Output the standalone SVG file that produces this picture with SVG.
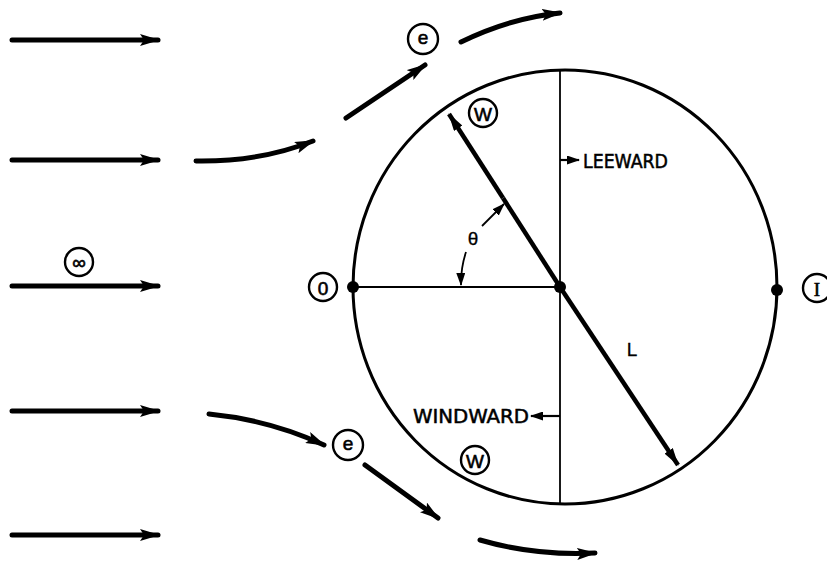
<svg xmlns="http://www.w3.org/2000/svg" width="827" height="566" viewBox="0 0 827 566">
<style>
.flow{fill:none;stroke:#000;stroke-width:5;stroke-linecap:round;marker-end:url(#big)}
.thin{fill:none;stroke:#000;stroke-width:1.8}
.lbl{fill:none;stroke:#000;stroke-width:2.4}
.ct{font-family:"Liberation Sans",Arial,sans-serif;font-size:19px;text-anchor:middle;dominant-baseline:central;fill:#000;stroke:#000;stroke-width:0.6}
.word{font-family:"Liberation Sans Narrow","DejaVu Sans Condensed","Liberation Sans",sans-serif;font-size:20px;fill:#000;stroke:#000;stroke-width:0.5}
</style>
<defs>
<marker id="big" markerUnits="userSpaceOnUse" viewBox="0 0 20 12" refX="18" refY="6" markerWidth="20" markerHeight="12" orient="auto"><path d="M0,0 L20,6 L0,12 L4,6 Z" fill="#000"/></marker>
<marker id="mid" markerUnits="userSpaceOnUse" viewBox="0 0 18 10" refX="17" refY="5" markerWidth="18" markerHeight="10" orient="auto"><path d="M0,0 L18,5 L0,10 Z" fill="#000"/></marker>
<marker id="sm" markerUnits="userSpaceOnUse" viewBox="0 0 13 9" refX="12" refY="4.5" markerWidth="13" markerHeight="9" orient="auto"><path d="M0,0 L13,4.5 L0,9 Z" fill="#000"/></marker>
</defs>
<g id="connectors">
<path class="flow" d="M12,40 L158,40"/>
<path class="flow" d="M12,160 L158,160"/>
<path class="flow" d="M12,286 L158,286"/>
<path class="flow" d="M12,411 L158,411"/>
<path class="flow" d="M12,535 L158,535"/>
<path class="flow" d="M196,161 Q260,162 313,141"/>
<path class="flow" d="M346,118 L425,65"/>
<path class="flow" d="M461,42 Q510,18 560,13"/>
<path class="flow" d="M209,414 Q270,420 324,445"/>
<path class="flow" d="M365,465 L438,518"/>
<path class="flow" d="M480,540 Q535,556 595,553"/>
</g>
<g id="wheel">
<ellipse cx="565" cy="287" rx="212" ry="217" fill="none" stroke="#000" stroke-width="3"/>
<line class="thin" x1="560" y1="70" x2="560" y2="504"/>
<line class="thin" x1="353" y1="287" x2="560" y2="287"/>
<line x1="503" y1="198" x2="449" y2="114" stroke="#000" stroke-width="4.5" marker-end="url(#mid)"/>
<line x1="503" y1="198" x2="560" y2="287" stroke="#000" stroke-width="4.5"/>
<line x1="560" y1="287" x2="678" y2="465" stroke="#000" stroke-width="4.5" marker-end="url(#mid)"/>
<path class="thin" d="M466,252 A100,100 0 0 0 461,285" marker-end="url(#sm)"/>
<path class="thin" d="M482,226 L504,204" marker-end="url(#sm)"/>
<circle cx="353" cy="287" r="6" fill="#000"/>
<circle cx="560" cy="287" r="6" fill="#000"/>
<circle cx="777" cy="290" r="6" fill="#000"/>
<line x1="560" y1="160" x2="579" y2="160" stroke="#000" stroke-width="2.2" marker-end="url(#sm)"/>
<line x1="560" y1="416" x2="531" y2="416" stroke="#000" stroke-width="2.2" marker-end="url(#sm)"/>
<text class="word" x="583" y="168" textLength="85" lengthAdjust="spacingAndGlyphs">LEEWARD</text>
<text class="word" x="413" y="423" textLength="116" lengthAdjust="spacingAndGlyphs">WINDWARD</text>
<text class="ct" x="473" y="238" font-size="22" style="stroke-width:0.3">θ</text>
<text class="ct" x="632" y="349" font-size="21" style="stroke-width:0.3">L</text>
</g>
<g id="label-inf"><circle class="lbl" cx="79" cy="262" r="14"/><text class="ct" x="79" y="262" font-size="22">∞</text></g>
<g id="label-0"><circle class="lbl" cx="323" cy="287" r="14"/><text class="ct" x="323" y="288" font-size="17">0</text></g>
<g id="label-1"><circle class="lbl" cx="817" cy="288" r="14"/><text class="ct" x="817" y="289" font-size="19" style="font-family:'Liberation Serif',serif">I</text></g>
<g id="label-e-top"><circle class="lbl" cx="423" cy="39" r="15"/><text class="ct" x="423" y="37" font-size="24">e</text></g>
<g id="label-e-bot"><circle class="lbl" cx="348" cy="445" r="15"/><text class="ct" x="348" y="443" font-size="24">e</text></g>
<g id="label-w-top"><circle class="lbl" cx="483" cy="113" r="14"/><text class="ct" x="483" y="114" font-size="18">W</text></g>
<g id="label-w-bot"><circle class="lbl" cx="475" cy="460" r="14"/><text class="ct" x="475" y="461" font-size="18">W</text></g>
</svg>
